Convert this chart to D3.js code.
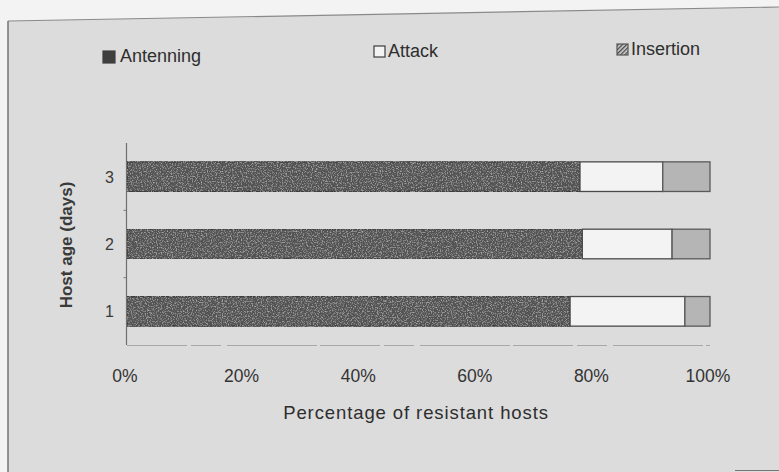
<!DOCTYPE html>
<html>
<head>
<meta charset="utf-8">
<script src="https://cdn.jsdelivr.net/npm/d3@7"></script>
<style>
  html, body { margin: 0; padding: 0; background: #f3f3f3; }
  svg { display: block; font-family: "Liberation Sans", Arial, sans-serif; }
</style>
</head>
<body>
<svg id="chart" width="779" height="472"></svg>
<script>
// Host age categories (top to bottom) and share of each resistance behaviour (%)
const ages = ["3", "2", "1"];
const antenning = [77.7, 78.1, 76.0];
const attack = [14.2, 15.4, 19.7];
const insertion = [8.1, 6.5, 4.3];
const xTicks = [0, 20, 40, 60, 80, 100];
const seriesNames = ["Antenning", "Attack", "Insertion"];

const svg = d3.select("#chart");

// Panel background with a slightly skewed top edge
svg.append("polygon")
  .attr("points", "8,21 779,7 779,472 8,472")
  .attr("fill", "#dcdcdc");
svg.append("line").attr("x1", 8).attr("y1", 21).attr("x2", 779).attr("y2", 7)
  .attr("stroke", "#8a8a8a").attr("stroke-width", 1.2);
svg.append("line").attr("x1", 8).attr("y1", 21).attr("x2", 8).attr("y2", 472)
  .attr("stroke", "#6a6a6a").attr("stroke-width", 1.4);
svg.append("line").attr("x1", 735).attr("y1", 470.5).attr("x2", 779).attr("y2", 470.5)
  .attr("stroke", "#777").attr("stroke-width", 1.2);

const defs = svg.append("defs");
// Grainy texture for the dark bars
const grain = defs.append("filter").attr("id", "grain")
  .attr("x", 0).attr("y", 0).attr("width", 1).attr("height", 1);
grain.append("feTurbulence").attr("type", "fractalNoise")
  .attr("baseFrequency", 0.8).attr("numOctaves", 2).attr("seed", 3).attr("result", "n");
grain.append("feColorMatrix").attr("in", "n").attr("type", "matrix")
  .attr("values", "0 0 0 0 0.44  0 0 0 0 0.44  0 0 0 0 0.44  0 0 0 -2.6 1.35")
  .attr("result", "spots");
grain.append("feComposite").attr("in", "spots").attr("in2", "SourceGraphic")
  .attr("operator", "in").attr("result", "spotsIn");
grain.append("feMerge").call(m => {
  m.append("feMergeNode").attr("in", "SourceGraphic");
  m.append("feMergeNode").attr("in", "spotsIn");
});
// Hatch used for the insertion legend key
const hatch = defs.append("pattern").attr("id", "hatch")
  .attr("patternUnits", "userSpaceOnUse").attr("width", 3).attr("height", 3)
  .attr("patternTransform", "rotate(45)");
hatch.append("rect").attr("width", 3).attr("height", 3).attr("fill", "#cfcfcf");
hatch.append("rect").attr("width", 1.3).attr("height", 3).attr("fill", "#4a4a4a");

const x = d3.scaleLinear().domain([0, 100]).range([127, 710]);
const y = d3.scaleBand().domain(ages).range([143, 345])
  .paddingInner(0.56).paddingOuter(0.28);

const rows = ages.map((a, i) => ({ age: a, Antenning: antenning[i], Attack: attack[i], Insertion: insertion[i] }));
const stacked = d3.stack().keys(seriesNames)(rows);

const fills = { Antenning: "#525252", Attack: "#f3f3f3", Insertion: "#b5b5b5" };
const strokes = { Antenning: "#3c3c3c", Attack: "#4a4a4a", Insertion: "#5a5a5a" };

// Axes
const yAxisX = x(0) - 0.5;
svg.append("line").attr("x1", yAxisX).attr("x2", yAxisX)
  .attr("y1", y.range()[0]).attr("y2", y.range()[1])
  .attr("stroke", "#6f6f6f").attr("stroke-width", 1.2);
const boundaries = ages.slice(1).map(a => y(a) - y.step() * y.paddingInner() / 2);
svg.selectAll(".ytick").data(boundaries).join("line")
  .attr("x1", yAxisX - 3).attr("x2", yAxisX)
  .attr("y1", d => d).attr("y2", d => d)
  .attr("stroke", "#777").attr("stroke-width", 1);
svg.append("line").attr("x1", x(0)).attr("x2", x(100))
  .attr("y1", 345.5).attr("y2", 345.5)
  .attr("stroke", "#a8a8a8").attr("stroke-width", 1).attr("stroke-dasharray", "60,4,30,6,90,3");

// Stacked bars
const layer = svg.selectAll(".layer").data(stacked).join("g")
  .attr("class", "layer");
layer.selectAll("rect").data(d => d.map(v => ({ key: d.key, v }))).join("rect")
  .attr("x", d => x(d.v[0]))
  .attr("y", d => y(d.v.data.age))
  .attr("width", d => x(d.v[1]) - x(d.v[0]))
  .attr("height", y.bandwidth())
  .attr("fill", d => fills[d.key])
  .attr("stroke", d => strokes[d.key])
  .attr("stroke-width", 1.3)
  .attr("filter", d => d.key === "Antenning" ? "url(#grain)" : null);

// Tick labels
svg.selectAll(".xlab").data(xTicks).join("text")
  .attr("x", d => x(d) - 2).attr("y", 382)
  .attr("text-anchor", "middle").attr("font-size", 17.5).attr("fill", "#333")
  .text(d => d + "%");
svg.selectAll(".ylab").data(ages).join("text")
  .attr("x", 114).attr("y", d => y(d) + y.bandwidth() / 2 + 6)
  .attr("text-anchor", "end").attr("font-size", 16).attr("fill", "#3a3a3a")
  .text(d => d);

// Axis titles
svg.append("text").attr("x", 416).attr("y", 419)
  .attr("text-anchor", "middle").attr("font-size", 18.5).attr("letter-spacing", 0.9)
  .attr("fill", "#2e2e2e").text("Percentage of resistant hosts");
svg.append("text").attr("transform", "translate(72,245) rotate(-90)")
  .attr("text-anchor", "middle").attr("font-size", 17).attr("font-weight", "bold")
  .attr("fill", "#3a3a3a").text("Host age (days)");

// Legend
const legend = [
  { name: seriesNames[0], x: 103, y: 60, fill: "#3f3f3f", stroke: "#3f3f3f" },
  { name: seriesNames[1], x: 374, y: 55, fill: "#f3f3f3", stroke: "#3c3c3c" },
  { name: seriesNames[2], x: 617, y: 53, fill: "url(#hatch)", stroke: "#555" }
];
const lg = svg.selectAll(".leg").data(legend).join("g");
lg.append("rect")
  .attr("x", d => d.x).attr("y", d => d.y - 9)
  .attr("width", d => d === legend[0] ? 12 : 11).attr("height", d => d === legend[0] ? 12 : 11)
  .attr("fill", d => d.fill).attr("stroke", d => d.stroke).attr("stroke-width", 1.2);
lg.append("text")
  .attr("x", d => d.x + (d === legend[0] ? 17 : 14)).attr("y", d => d.y + 2)
  .attr("font-size", 18).attr("fill", "#2e2e2e")
  .text(d => d.name);
</script>
</body>
</html>
